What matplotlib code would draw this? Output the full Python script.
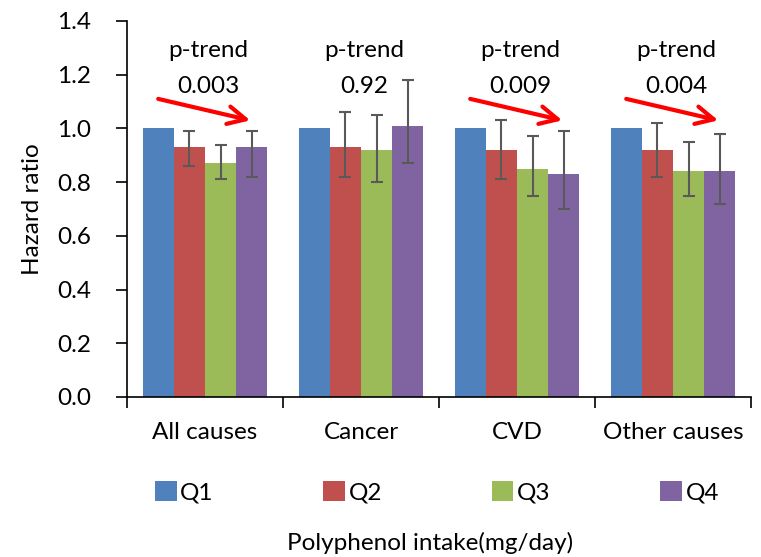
import numpy as np
import matplotlib
matplotlib.use('Agg')
import matplotlib.pyplot as plt

plt.rcParams['font.family'] = ['Lato', 'DejaVu Sans']

# data
causes = ['All causes', 'Cancer', 'CVD', 'Other causes']
quartiles = ['Q1', 'Q2', 'Q3', 'Q4']
hr = [[1.00, 1.00, 1.00, 1.00],
      [0.93, 0.93, 0.92, 0.92],
      [0.87, 0.92, 0.85, 0.84],
      [0.93, 1.01, 0.83, 0.84]]
ci_low = [[np.nan, np.nan, np.nan, np.nan],
          [0.86, 0.82, 0.81, 0.82],
          [0.81, 0.80, 0.75, 0.75],
          [0.82, 0.87, 0.70, 0.72]]
ci_high = [[np.nan, np.nan, np.nan, np.nan],
           [0.99, 1.06, 1.03, 1.02],
           [0.94, 1.05, 0.97, 0.95],
           [0.99, 1.18, 0.99, 0.98]]
p_trend = ['0.003', '0.92', '0.009', '0.004']
has_arrow = [True, False, True, True]

colors = ['#4F81BD', '#C0504D', '#9BBB59', '#8064A2']
fs = 17.5

fig = plt.figure(figsize=(7.61, 5.57), dpi=100)
ax = fig.add_axes([0.1669, 0.2873, 0.82, 0.675])

x = np.arange(len(causes))
w = 0.2
for i in range(4):
    pos = x + (i - 1.5) * w
    vals = np.array(hr[i])
    ax.bar(pos, vals, w, color=colors[i], label=quartiles[i], zorder=2)
    if i > 0:
        lo = vals - np.array(ci_low[i])
        hi = np.array(ci_high[i]) - vals
        ax.errorbar(pos, vals, yerr=[lo, hi], fmt='none',
                    ecolor='#595959', elinewidth=1.5, capsize=4,
                    capthick=1.5, zorder=3)

# p-trend annotations and red arrows
for j in range(len(causes)):
    ax.text(x[j] + 0.02, 1.29, 'p-trend', ha='center', va='center', fontsize=fs)
    ax.text(x[j] + 0.02, 1.155, p_trend[j], ha='center', va='center', fontsize=fs)
    if has_arrow[j]:
        ax.annotate('', xy=(x[j] + 0.29, 1.03), xytext=(x[j] - 0.30, 1.11),
                    arrowprops=dict(arrowstyle='->', color='#FF0000', lw=3,
                                    mutation_scale=32, shrinkA=0, shrinkB=0))

ax.set_xlim(-0.5, len(causes) - 0.5)
ax.set_ylim(0, 1.4)
ax.set_yticks(np.arange(0, 1.41, 0.2))
ax.set_yticklabels(['%.1f' % v for v in np.arange(0, 1.41, 0.2)], fontsize=fs)
ax.set_xticks(np.arange(-0.5, len(causes)), labels=[''] * (len(causes) + 1))
ax.set_xticks(x, labels=causes, minor=True)
ax.tick_params(axis='x', which='minor', length=0, pad=18, labelsize=fs)
ax.tick_params(axis='x', which='major', length=8, width=1.2)
ax.tick_params(axis='y', length=8, width=1.2, pad=18)
for s in ['top', 'right']:
    ax.spines[s].set_visible(False)
for s in ['left', 'bottom']:
    ax.spines[s].set_linewidth(1.2)

ax.set_ylabel('Hazard ratio', fontsize=fs, labelpad=10)

fig.legend(loc='center', bbox_to_anchor=(0.574, 0.117), ncol=4, frameon=False,
           fontsize=fs, handlelength=0.9, handleheight=0.9, handletextpad=0.15,
           columnspacing=4.5)
fig.text(0.565, 0.025, 'Polyphenol intake(mg/day)', ha='center', va='center',
         fontsize=fs)

fig.savefig('out.png', dpi=100)
